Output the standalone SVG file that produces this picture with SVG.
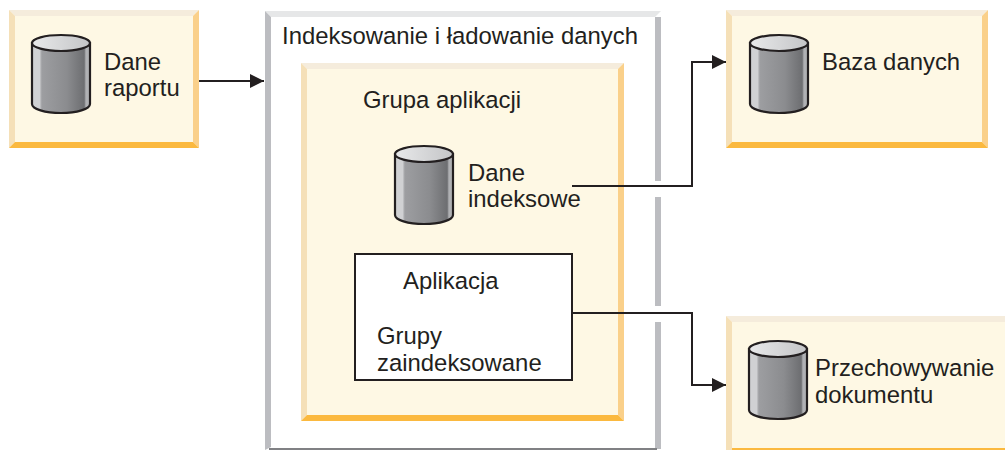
<svg xmlns="http://www.w3.org/2000/svg" width="1005" height="450" viewBox="0 0 1005 450">
<style>
text{font-family:"Liberation Sans",Arial,sans-serif;font-size:23.9px;fill:#231f20}
.fill{fill:#fef8e4}.t{fill:#f5ecdc}.l{fill:#f5e0b8}.r{fill:#fad08a}.b{fill:#fbb93f}
.conn{fill:none;stroke:#231f20;stroke-width:2}
</style>
<defs>
<linearGradient id="cyl" x1="0" x2="1" y1="0" y2="0">
<stop offset="0" stop-color="#d0d1d3"/><stop offset=".13" stop-color="#d0d1d3"/><stop offset=".17" stop-color="#9d9ea1"/><stop offset=".6" stop-color="#8b8c8f"/><stop offset=".9" stop-color="#6d6e71"/><stop offset=".93" stop-color="#b0b1b4"/><stop offset="1" stop-color="#b0b1b4"/>
</linearGradient>
<linearGradient id="lid" x1="0" x2="1" y1="0" y2="0"><stop offset="0" stop-color="#e8e9ea"/><stop offset="1" stop-color="#c4c5c7"/></linearGradient>
<symbol id="db" viewBox="0 0 60 80" width="60" height="80" overflow="visible">
<path d="M1 9V70C1 75 14 79 30 79S59 75 59 70V9Z" fill="url(#cyl)" stroke="#231f20" stroke-width="2.2"/>
<ellipse cx="30" cy="9" rx="29" ry="8" fill="url(#lid)" stroke="#231f20" stroke-width="2.2"/>
</symbol>
<marker id="arr" markerUnits="userSpaceOnUse" markerWidth="15" markerHeight="15" refX="14" refY="7" orient="auto"><path d="M0 0L14 7L0 14Z" fill="#231f20"/></marker>
</defs>
<g id="outer">
<path d="M265 11H661V450H265Z" fill="#fff"/>
<path d="M265 11H661L655 17H271Z" fill="#e6e7e8"/>
<path d="M265 11L271 17V447L265 450Z" fill="#bcbdc1"/>
<path d="M655 17H661V181H655ZM655 197H661V306H655ZM655 322H661V449H655Z" fill="#bcbdc1"/>
<path d="M269 448H657V450H269Z" fill="#808184"/>
<text x="282" y="44">Indeksowanie i ładowanie danych</text>
</g>
<g id="grupa">
<rect class="fill" x="301" y="63" width="323" height="358"/>
<path class="t" d="M301 63H624L618 69H307Z"/><path class="l" d="M301 63L307 69V415L301 421Z"/><path class="r" d="M624 63V421L618 415V69Z"/><path class="b" d="M301 421L307 415H618L624 421Z"/>
<text x="363" y="108">Grupa aplikacji</text>
</g>
<g id="dane-raportu">
<rect class="fill" x="9" y="10" width="190" height="138"/>
<path class="t" d="M9 10H199L193 16H15Z"/><path class="l" d="M9 10L15 16V142L9 148Z"/><path class="r" d="M199 10V148L193 142V16Z"/><path class="b" d="M9 148L15 142H193L199 148Z"/>
<use href="#db" x="31" y="34"/>
<text x="104" y="70">Dane</text><text x="104" y="96">raportu</text>
</g>
<g id="baza-danych">
<rect class="fill" x="726" y="10" width="262" height="138"/>
<path class="t" d="M726 10H988L982 16H732Z"/><path class="l" d="M726 10L732 16V142L726 148Z"/><path class="r" d="M988 10V148L982 142V16Z"/><path class="b" d="M726 148L732 142H982L988 148Z"/>
<use href="#db" x="749" y="34"/>
<text x="822" y="70">Baza danych</text>
</g>
<g id="przechowywanie">
<rect class="fill" x="726" y="316" width="279" height="134"/>
<path class="t" d="M726 316H1005V322H732Z"/><path class="l" d="M726 316L732 322V450H726Z"/><path class="b" d="M732 448H1005V450H732Z"/>
<use href="#db" x="748" y="340"/>
<text x="815" y="376">Przechowywanie</text><text x="815" y="403">dokumentu</text>
</g>
<g id="dane-indeksowe">
<use href="#db" x="394" y="145"/>
<text x="468" y="181">Dane</text><text x="468" y="207">indeksowe</text>
</g>
<g id="aplikacja">
<rect x="355" y="254" width="217" height="126" fill="#fff" stroke="#231f20" stroke-width="2"/>
<text x="403" y="289">Aplikacja</text>
<text x="377" y="344">Grupy</text><text x="377" y="371">zaindeksowane</text>
</g>
<g id="connectors">
<path class="conn" d="M199 81H264" marker-end="url(#arr)"/>
<path class="conn" d="M572 186H692V62H726" marker-end="url(#arr)"/>
<path class="conn" d="M572 313H692V385H726" marker-end="url(#arr)"/>
</g>
</svg>
